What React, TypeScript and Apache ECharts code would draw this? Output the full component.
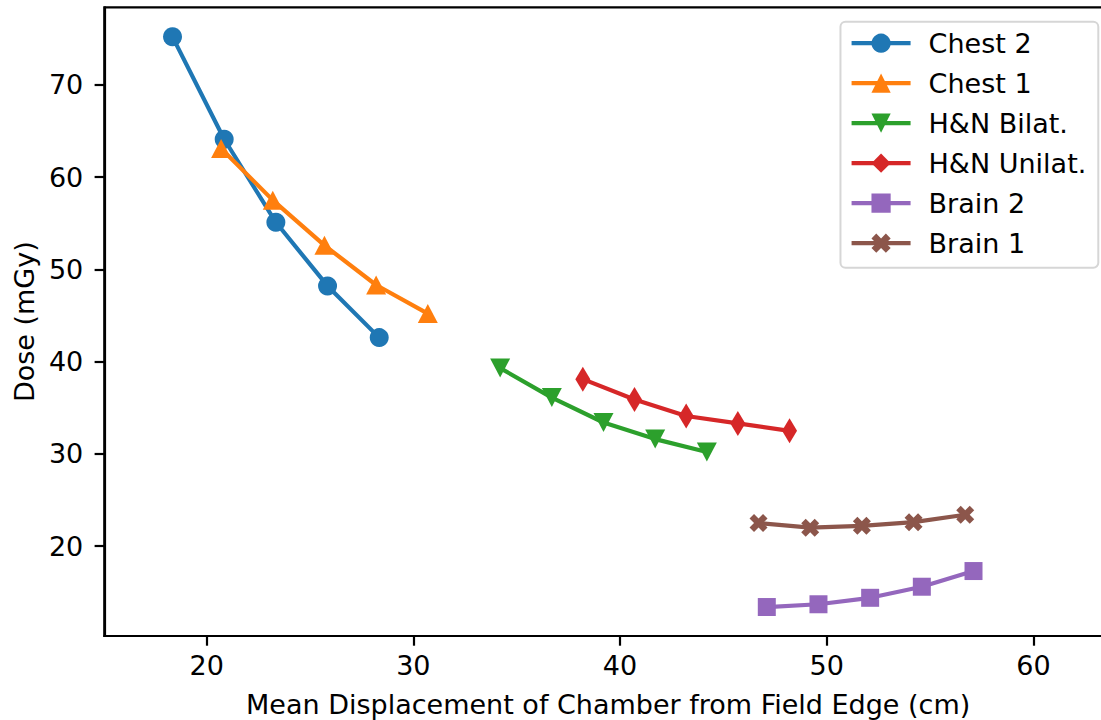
import React, { useEffect, useRef } from "react";
import * as echarts from "echarts";

const seriesNames = ["Chest 2", "Chest 1", "H&N Bilat.", "H&N Unilat.", "Brain 2", "Brain 1"];
const seriesColors = ["#1f77b4", "#ff7f0e", "#2ca02c", "#d62728", "#9467bd", "#8c564b"];

const chest2X = [18.35, 20.85, 23.35, 25.85, 28.35];
const chest2Y = [75.2, 64.1, 55.1, 48.2, 42.6];
const chest1X = [20.7, 23.2, 25.7, 28.2, 30.7];
const chest1Y = [63.1, 57.5, 52.6, 48.3, 45.2];
const hnBilatX = [34.2, 36.7, 39.2, 41.7, 44.2];
const hnBilatY = [39.3, 36.1, 33.4, 31.6, 30.2];
const hnUnilatX = [38.2, 40.7, 43.2, 45.7, 48.2];
const hnUnilatY = [38.1, 35.9, 34.1, 33.3, 32.5];
const brain2X = [47.1, 49.6, 52.1, 54.6, 57.1];
const brain2Y = [13.4, 13.7, 14.4, 15.6, 17.3];
const brain1X = [46.7, 49.2, 51.7, 54.2, 56.7];
const brain1Y = [22.5, 22.0, 22.2, 22.6, 23.4];

const xTicks = [20, 30, 40, 50, 60];
const yTicks = [20, 30, 40, 50, 60, 70];

const xName = "Mean Displacement of Chamber from Field Edge (cm)";
const yName = "Dose (mGy)";

const FONT = "DejaVu Sans";

const symbols: any[] = [
  { symbol: "circle", size: 19 },
  { symbol: "path://M5,0 L10,10 L0,10 Z", size: [20, 19] },
  { symbol: "path://M0,0 L10,0 L5,10 Z", size: [20, 19] },
  { symbol: "path://M3,0 L6,5 L3,10 L0,5 Z", size: [15, 25] },
  { symbol: "rect", size: 18 },
  { symbol: "path://M1,0 L2,1 L3,0 L4,1 L3,2 L4,3 L3,4 L2,3 L1,4 L0,3 L1,2 L0,1 Z", size: 18 },
];

function zip(xs: number[], ys: number[]) {
  return xs.map((x, i) => [x, ys[i]]);
}

export default function App() {
  const ref = useRef<HTMLDivElement>(null);
  useEffect(() => {
    const chart = echarts.init(ref.current!, null, { renderer: "svg" });
    const allData = [
      zip(chest2X, chest2Y),
      zip(chest1X, chest1Y),
      zip(hnBilatX, hnBilatY),
      zip(hnUnilatX, hnUnilatY),
      zip(brain2X, brain2Y),
      zip(brain1X, brain1Y),
    ];
    const axisText = { color: "#000", fontFamily: FONT, fontSize: 27 };
    chart.setOption({
      animation: false,
      backgroundColor: "#fff",
      grid: {
        left: 104.3,
        right: 8,
        top: 7.3,
        bottom: 84,
        outerBoundsMode: "none",
        containLabel: false,
        show: true,
        borderColor: "#000",
        borderWidth: 2.2,
      },
      legend: {
        orient: "vertical",
        right: 21.7,
        top: 21.7,
        data: seriesNames,
        itemWidth: 59,
        itemHeight: 24,
        itemGap: 13,
        padding: [8, 12, 11, 9],
        backgroundColor: "#fff",
        borderColor: "#d6d6d6",
        borderWidth: 2,
        borderRadius: 5,
        lineStyle: { width: 4.2 },
        textStyle: { ...axisText, lineHeight: 27, padding: [0, 0, 0, 13] },
      },
      xAxis: {
        type: "value",
        min: 15.05,
        max: 63.8,
        name: xName,
        nameLocation: "middle",
        nameGap: 55,
        nameTextStyle: axisText,
        splitLine: { show: false },
        axisLine: { show: true, onZero: false, lineStyle: { color: "#000", width: 2.2 } },
        axisTick: { show: true, length: 9.7, lineStyle: { color: "#000", width: 2.2 }, customValues: xTicks },
        axisLabel: { ...axisText, margin: 16, customValues: xTicks },
      },
      yAxis: {
        type: "value",
        min: 10.26,
        max: 78.4,
        name: yName,
        nameLocation: "middle",
        nameGap: 66,
        nameTextStyle: axisText,
        splitLine: { show: false },
        axisLine: { show: true, onZero: false, lineStyle: { color: "#000", width: 2.2 } },
        axisTick: { show: true, length: 9.7, lineStyle: { color: "#000", width: 2.2 }, customValues: yTicks },
        axisLabel: { ...axisText, margin: 21, customValues: yTicks },
      },
      series: seriesNames.map((name, i) => ({
        name,
        type: "line",
        data: allData[i],
        symbol: symbols[i].symbol,
        symbolSize: symbols[i].size,
        symbolKeepAspect: false,
        showAllSymbol: true,
        color: seriesColors[i],
        lineStyle: { width: 4.2, color: seriesColors[i] },
        itemStyle: { color: seriesColors[i], borderWidth: 0 },
        emphasis: { disabled: true },
        z: 2 + i,
      })),
    });
    return () => chart.dispose();
  }, []);
  return (
    <div
      style={{
        position: "fixed",
        left: 0,
        top: 0,
        width: 1101,
        height: 720,
        overflow: "hidden",
        background: "#fff",
      }}
    >
      <div ref={ref} style={{ width: 1120, height: 720 }} />
    </div>
  );
}
